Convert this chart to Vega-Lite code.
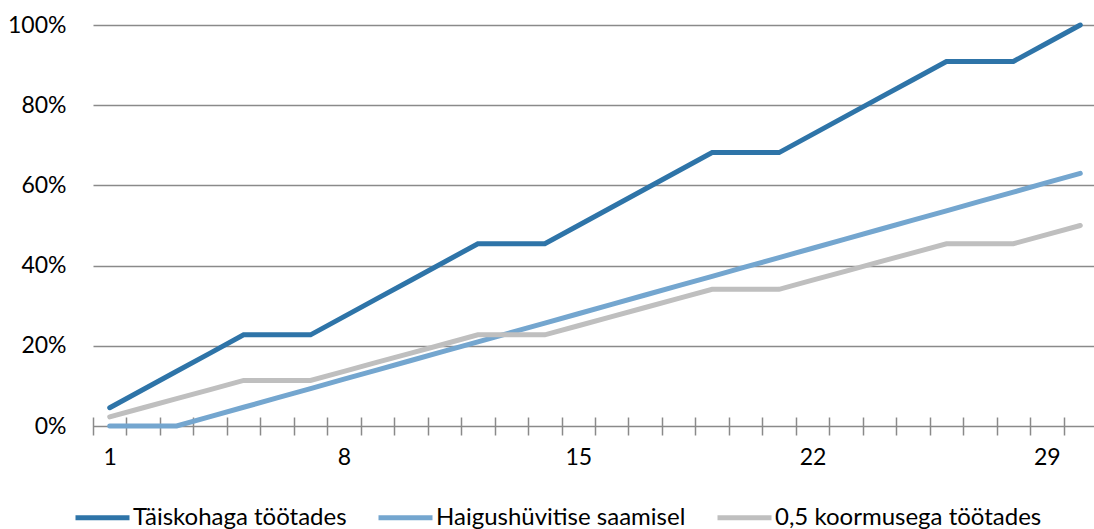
{
  "$schema": "https://vega.github.io/schema/vega-lite/v6.json",
  "autosize": "none",
  "padding": {"left": 93, "top": 25, "right": 0, "bottom": 103},
  "width": 1001,
  "height": 401,
  "background": "white",
  "config": {"view": {"stroke": null}, "font": "Lato"},
  "data": {"values": [
    {"day":1,"s":"Täiskohaga töötades","v":0.0455},{"day":2,"s":"Täiskohaga töötades","v":0.0909},{"day":3,"s":"Täiskohaga töötades","v":0.1364},{"day":4,"s":"Täiskohaga töötades","v":0.1818},{"day":5,"s":"Täiskohaga töötades","v":0.2273},{"day":6,"s":"Täiskohaga töötades","v":0.2273},{"day":7,"s":"Täiskohaga töötades","v":0.2273},{"day":8,"s":"Täiskohaga töötades","v":0.2727},{"day":9,"s":"Täiskohaga töötades","v":0.3182},{"day":10,"s":"Täiskohaga töötades","v":0.3636},{"day":11,"s":"Täiskohaga töötades","v":0.4091},{"day":12,"s":"Täiskohaga töötades","v":0.4545},{"day":13,"s":"Täiskohaga töötades","v":0.4545},{"day":14,"s":"Täiskohaga töötades","v":0.4545},{"day":15,"s":"Täiskohaga töötades","v":0.5},{"day":16,"s":"Täiskohaga töötades","v":0.5455},{"day":17,"s":"Täiskohaga töötades","v":0.5909},{"day":18,"s":"Täiskohaga töötades","v":0.6364},{"day":19,"s":"Täiskohaga töötades","v":0.6818},{"day":20,"s":"Täiskohaga töötades","v":0.6818},{"day":21,"s":"Täiskohaga töötades","v":0.6818},{"day":22,"s":"Täiskohaga töötades","v":0.7273},{"day":23,"s":"Täiskohaga töötades","v":0.7727},{"day":24,"s":"Täiskohaga töötades","v":0.8182},{"day":25,"s":"Täiskohaga töötades","v":0.8636},{"day":26,"s":"Täiskohaga töötades","v":0.9091},{"day":27,"s":"Täiskohaga töötades","v":0.9091},{"day":28,"s":"Täiskohaga töötades","v":0.9091},{"day":29,"s":"Täiskohaga töötades","v":0.9545},{"day":30,"s":"Täiskohaga töötades","v":1.0},
    {"day":1,"s":"Haigushüvitise saamisel","v":0},{"day":2,"s":"Haigushüvitise saamisel","v":0},{"day":3,"s":"Haigushüvitise saamisel","v":0},{"day":4,"s":"Haigushüvitise saamisel","v":0.0233},{"day":5,"s":"Haigushüvitise saamisel","v":0.0467},{"day":6,"s":"Haigushüvitise saamisel","v":0.07},{"day":7,"s":"Haigushüvitise saamisel","v":0.0933},{"day":8,"s":"Haigushüvitise saamisel","v":0.1167},{"day":9,"s":"Haigushüvitise saamisel","v":0.14},{"day":10,"s":"Haigushüvitise saamisel","v":0.1633},{"day":11,"s":"Haigushüvitise saamisel","v":0.1867},{"day":12,"s":"Haigushüvitise saamisel","v":0.21},{"day":13,"s":"Haigushüvitise saamisel","v":0.2333},{"day":14,"s":"Haigushüvitise saamisel","v":0.2567},{"day":15,"s":"Haigushüvitise saamisel","v":0.28},{"day":16,"s":"Haigushüvitise saamisel","v":0.3033},{"day":17,"s":"Haigushüvitise saamisel","v":0.3267},{"day":18,"s":"Haigushüvitise saamisel","v":0.35},{"day":19,"s":"Haigushüvitise saamisel","v":0.3733},{"day":20,"s":"Haigushüvitise saamisel","v":0.3967},{"day":21,"s":"Haigushüvitise saamisel","v":0.42},{"day":22,"s":"Haigushüvitise saamisel","v":0.4433},{"day":23,"s":"Haigushüvitise saamisel","v":0.4667},{"day":24,"s":"Haigushüvitise saamisel","v":0.49},{"day":25,"s":"Haigushüvitise saamisel","v":0.5133},{"day":26,"s":"Haigushüvitise saamisel","v":0.5367},{"day":27,"s":"Haigushüvitise saamisel","v":0.56},{"day":28,"s":"Haigushüvitise saamisel","v":0.5833},{"day":29,"s":"Haigushüvitise saamisel","v":0.6067},{"day":30,"s":"Haigushüvitise saamisel","v":0.63},
    {"day":1,"s":"0,5 koormusega töötades","v":0.0227},{"day":2,"s":"0,5 koormusega töötades","v":0.0455},{"day":3,"s":"0,5 koormusega töötades","v":0.0682},{"day":4,"s":"0,5 koormusega töötades","v":0.0909},{"day":5,"s":"0,5 koormusega töötades","v":0.1136},{"day":6,"s":"0,5 koormusega töötades","v":0.1136},{"day":7,"s":"0,5 koormusega töötades","v":0.1136},{"day":8,"s":"0,5 koormusega töötades","v":0.1364},{"day":9,"s":"0,5 koormusega töötades","v":0.1591},{"day":10,"s":"0,5 koormusega töötades","v":0.1818},{"day":11,"s":"0,5 koormusega töötades","v":0.2045},{"day":12,"s":"0,5 koormusega töötades","v":0.2273},{"day":13,"s":"0,5 koormusega töötades","v":0.2273},{"day":14,"s":"0,5 koormusega töötades","v":0.2273},{"day":15,"s":"0,5 koormusega töötades","v":0.25},{"day":16,"s":"0,5 koormusega töötades","v":0.2727},{"day":17,"s":"0,5 koormusega töötades","v":0.2955},{"day":18,"s":"0,5 koormusega töötades","v":0.3182},{"day":19,"s":"0,5 koormusega töötades","v":0.3409},{"day":20,"s":"0,5 koormusega töötades","v":0.3409},{"day":21,"s":"0,5 koormusega töötades","v":0.3409},{"day":22,"s":"0,5 koormusega töötades","v":0.3636},{"day":23,"s":"0,5 koormusega töötades","v":0.3864},{"day":24,"s":"0,5 koormusega töötades","v":0.4091},{"day":25,"s":"0,5 koormusega töötades","v":0.4318},{"day":26,"s":"0,5 koormusega töötades","v":0.4545},{"day":27,"s":"0,5 koormusega töötades","v":0.4545},{"day":28,"s":"0,5 koormusega töötades","v":0.4545},{"day":29,"s":"0,5 koormusega töötades","v":0.4773},{"day":30,"s":"0,5 koormusega töötades","v":0.5}
  ]},
  "mark": {"type": "line", "strokeWidth": 5, "strokeCap": "round", "clip": false},
  "encoding": {
    "x": {
      "field": "day", "type": "quantitative",
      "scale": {"domain": [0.5, 30.41], "nice": false, "zero": false},
      "axis": {
        "title": null,
        "values": [0.5,1.5,2.5,3.5,4.5,5.5,6.5,7.5,8.5,9.5,10.5,11.5,12.5,13.5,14.5,15.5,16.5,17.5,18.5,19.5,20.5,21.5,22.5,23.5,24.5,25.5,26.5,27.5,28.5,29.5],
        "labelExpr": "(datum.value - 0.5) % 7 == 0 ? format(datum.value + 0.5, 'd') : ''",
        "labelOffset": 16.7,
        "labelOverlap": false,
        "labelFlush": false,
        "labelBound": false,
        "offset": -9,
        "domain": false,
        "grid": false,
        "ticks": true,
        "tickSize": 18,
        "tickColor": "#8a8a8a",
        "tickWidth": 1.5,
        "labelPadding": 11,
        "labelFontSize": 23,
        "labelColor": "#000000"
      }
    },
    "y": {
      "field": "v", "type": "quantitative",
      "scale": {"domain": [0, 1], "nice": false},
      "axis": {
        "title": null,
        "values": [0, 0.2, 0.4, 0.6, 0.8, 1.0],
        "format": ".0%",
        "domain": false,
        "ticks": false,
        "grid": true,
        "gridColor": "#8a8a8a",
        "gridWidth": 1.5,
        "labelPadding": 27,
        "labelFontSize": 23,
        "labelColor": "#000000"
      }
    },
    "color": {
      "field": "s", "type": "nominal",
      "scale": {
        "domain": ["Täiskohaga töötades", "Haigushüvitise saamisel", "0,5 koormusega töötades"],
        "range": ["#2e74a8", "#74a6cf", "#bfbfbf"]
      },
      "legend": {
        "title": null,
        "orient": "none",
        "direction": "horizontal",
        "legendX": -20,
        "legendY": 463,
        "symbolType": "stroke",
        "symbolSize": 2916,
        "symbolStrokeWidth": 5,
        "labelOffset": 1,
        "columnPadding": 21,
        "labelFontSize": 24,
        "labelColor": "#000000",
        "labelLimit": 400
      }
    }
  }
}
